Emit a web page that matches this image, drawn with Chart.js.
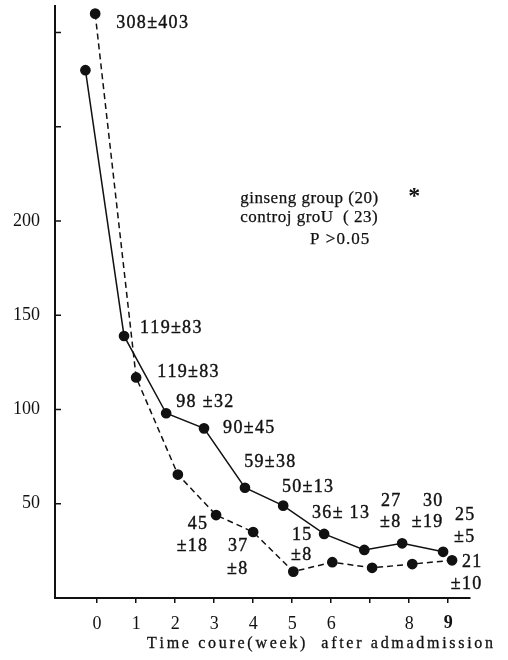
<!DOCTYPE html>
<html>
<head>
<meta charset="utf-8">
<script src="https://cdn.jsdelivr.net/npm/chart.js@4.4.1/dist/chart.umd.min.js"></script>
<style>
  body { margin: 0; background: #fff; }
  #wrap { width: 508px; height: 660px; }
</style>
</head>
<body>
<div id="wrap"><canvas id="courseChart"></canvas></div>
<script>
// solid line (ginseng) and dashed line (control)
const ginsengWeeks = [-0.3, 0.69, 1.77, 2.74, 3.79, 4.77, 5.82, 6.85, 7.82, 8.87];
const ginsengValues = [280, 139, 98, 90, 58.5, 49, 34, 25.5, 29, 24.5];
const controlWeeks = [-0.05, 1.0, 2.07, 3.05, 4.0, 5.03, 6.03, 7.05, 8.08, 9.1];
const controlValues = [310, 117, 65.5, 44, 35, 14, 19, 16, 18, 20];

const xTickValues = [0, 1, 2, 3, 4, 5, 6, 7, 8, 9];
const xTickLabels = ['0', '1', '2', '3', '4', '5', '6', '', '8', '9'];
const yTickValues = [50, 100, 150, 200, 250, 300];
const yTickLabels = ['50', '100', '150', '200', '', ''];

// value labels: [text, week, value] (single line, left aligned)
const singleNotes = [
  ['308\u00b1403', 0.49, 305],
  ['119\u00b183', 1.10, 143],
  ['119\u00b183', 1.54, 120],
  ['98 \u00b132', 2.03, 104],
  ['90\u00b145', 3.23, 90],
  ['59\u00b138', 3.77, 72],
  ['50\u00b113', 4.74, 59],
  ['36\u00b1 13', 5.51, 45]
];
// two-line labels: [top, bottom, week of right edge, value top, value bottom]
const stackedNotes = [
  ['45', '\u00b118', 2.82, 39.2, 27.6],
  ['37', '\u00b18', 3.85, 27.6, 15.4],
  ['15', '\u00b18', 5.49, 33.4, 22.8],
  ['27', '\u00b18', 7.77, 51.4, 40.3],
  ['30', '\u00b119', 8.85, 51.4, 40.3],
  ['25', '\u00b15', 9.67, 44, 32.3],
  ['21', '\u00b110', 9.85, 19.1, 7.4]
];
const legendLines = ['ginseng group (20)', 'controj groU  ( 23)', 'P >0.05'];
const axisTitle = 'Time coure(week)  after admadmission';

const INK = '#111';
const SERIF = '"Liberation Serif", "DejaVu Serif", serif';

Chart.defaults.font.family = SERIF;
Chart.defaults.color = INK;

function drawSpaced(ctx, text, x, y, align, spacing) {
  const chars = [...text];
  const widths = chars.map(c => ctx.measureText(c).width);
  const total = widths.reduce((a, b) => a + b, 0) + spacing * (chars.length - 1);
  let cx = align === 'right' ? x - total : align === 'center' ? x - total / 2 : x;
  ctx.textAlign = 'left';
  chars.forEach((c, i) => {
    ctx.fillText(c, cx, y);
    ctx.strokeText(c, cx, y); // thicken a little, the print is heavy
    cx += widths[i] + spacing;
  });
}

const notesPlugin = {
  id: 'notes',
  afterDraw(chart) {
    const { ctx, scales: { x, y } } = chart;
    ctx.save();
    ctx.fillStyle = INK;
    ctx.strokeStyle = INK;
    ctx.textBaseline = 'middle';

    // inner tick marks on the y axis
    ctx.lineWidth = 1.5;
    yTickValues.forEach(v => {
      const py = y.getPixelForValue(v);
      ctx.beginPath();
      ctx.moveTo(x.left, py);
      ctx.lineTo(x.left + 6, py);
      ctx.stroke();
    });

    ctx.lineWidth = 0.4;
    ctx.font = '18px ' + SERIF;
    singleNotes.forEach(([t, wk, v]) => {
      drawSpaced(ctx, t, x.getPixelForValue(wk), y.getPixelForValue(v), 'left', 1.3);
    });
    stackedNotes.forEach(([a, b, wk, v1, v2]) => {
      const px = x.getPixelForValue(wk);
      drawSpaced(ctx, a, px, y.getPixelForValue(v1), 'right', 1.3);
      drawSpaced(ctx, b, px, y.getPixelForValue(v2), 'right', 1.3);
    });

    // legend text
    ctx.lineWidth = 0.25;
    ctx.font = '17px ' + SERIF;
    const lx = x.getPixelForValue(3.67);
    drawSpaced(ctx, legendLines[0], lx, y.getPixelForValue(212), 'left', 0.5);
    drawSpaced(ctx, legendLines[1], lx, y.getPixelForValue(202), 'left', 0.5);
    drawSpaced(ctx, legendLines[2], x.getPixelForValue(5.46), y.getPixelForValue(190), 'left', 1);
    ctx.font = 'bold 24px ' + SERIF;
    ctx.textAlign = 'left';
    ctx.fillText('*', x.getPixelForValue(7.98), y.getPixelForValue(213));

    // axis title, spread wide like the original
    ctx.lineWidth = 0.3;
    ctx.font = '16px ' + SERIF;
    const left = x.getPixelForValue(1.28), right = x.getPixelForValue(10.15);
    const natural = [...axisTitle].reduce((s, c) => s + ctx.measureText(c).width, 0);
    const spacing = (right - left - natural) / (axisTitle.length - 1);
    drawSpaced(ctx, axisTitle, left, chart.chartArea.bottom + 46, 'left', spacing);
    ctx.restore();
  }
};

new Chart(document.getElementById('courseChart'), {
  type: 'line',
  data: {
    datasets: [
      {
        label: 'ginseng group',
        data: ginsengWeeks.map((w, i) => ({ x: w, y: ginsengValues[i] })),
        borderColor: INK,
        borderWidth: 1.5,
        pointRadius: 4.6,
        pointBackgroundColor: INK,
        pointBorderColor: INK,
        tension: 0
      },
      {
        label: 'control group',
        data: controlWeeks.map((w, i) => ({ x: w, y: controlValues[i] })),
        borderColor: INK,
        borderWidth: 1.5,
        borderDash: [6, 4],
        pointRadius: 4.6,
        pointBackgroundColor: INK,
        pointBorderColor: INK,
        tension: 0
      }
    ]
  },
  options: {
    responsive: true,
    maintainAspectRatio: false,
    animation: false,
    layout: { padding: { top: 5, right: 38, left: 0, bottom: 0 } },
    plugins: { legend: { display: false }, tooltip: { enabled: false } },
    scales: {
      x: {
        type: 'linear',
        min: -1.08,
        max: 9.56,
        afterBuildTicks: s => { s.ticks = xTickValues.map(v => ({ value: v })); },
        afterFit: s => { s.height = 62; s.paddingLeft = 0; s.paddingRight = 0; },
        grid: { drawOnChartArea: false, drawTicks: true, tickLength: 5, color: INK, lineWidth: 1.5 },
        border: { display: true, color: INK, width: 2 },
        ticks: {
          autoSkip: false,
          maxRotation: 0,
          padding: 10,
          color: INK,
          font: c => ({ size: 18, weight: c.tick && c.tick.value === 9 ? 'bold' : 'normal' }),
          callback: v => xTickLabels[xTickValues.indexOf(v)]
        }
      },
      y: {
        min: 0,
        max: 314,
        afterBuildTicks: s => { s.ticks = yTickValues.map(v => ({ value: v })); },
        afterFit: s => { s.width = 55; s.paddingTop = 0; s.paddingBottom = 0; },
        grid: { drawOnChartArea: false, drawTicks: false },
        border: { display: true, color: INK, width: 2 },
        ticks: {
          padding: 15,
          color: INK,
          font: { size: 18 },
          callback: v => yTickLabels[yTickValues.indexOf(v)]
        }
      }
    }
  },
  plugins: [notesPlugin]
});
</script>
</body>
</html>
